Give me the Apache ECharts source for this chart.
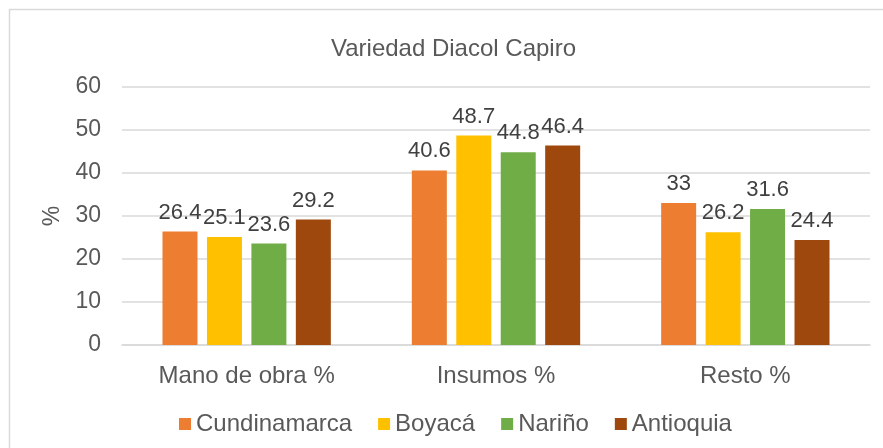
<!DOCTYPE html>
<html>
<head>
<meta charset="utf-8">
<script src="https://cdn.jsdelivr.net/npm/echarts@6/dist/echarts.min.js"></script>
<style>
  html, body { margin: 0; padding: 0; background: #fff; }
  #chart { width: 883px; height: 448px; }
</style>
</head>
<body>
<div id="chart"></div>
<script>
// Cost categories and values per region
const categories = ['Mano de obra %', 'Insumos %', 'Resto %'];
const cundinamarca = [26.4, 40.6, 33];
const boyaca = [25.1, 48.7, 26.2];
const narino = [23.6, 44.8, 31.6];
const antioquia = [29.2, 46.4, 24.4];
const yTicks = [0, 10, 20, 30, 40, 50, 60];

const fontFamily = '"Liberation Sans", Arial, sans-serif';
const chart = echarts.init(document.getElementById('chart'));

function makeSeries(name, data, color) {
    return {
        name: name,
        type: 'bar',
        data: data,
        barWidth: 35,
        barGap: '27%',
        itemStyle: { color: color },
        label: {
            show: true,
            position: 'top',
            distance: 8,
            color: '#404040',
            fontSize: 22,
            fontFamily: fontFamily
        }
    };
}

const option = {
    animation: false,
    backgroundColor: '#fff',
    title: {
        text: 'Variedad Diacol Capiro',
        left: 326,
        top: 32,
        textStyle: { color: '#595959', fontSize: 24, fontWeight: 'normal', fontFamily: fontFamily }
    },
    graphic: [{
        type: 'rect',
        shape: { x: 9.5, y: 9.5, width: 900, height: 500 },
        style: { fill: 'none', stroke: '#d9d9d9', lineWidth: 1.5 },
        silent: true
    }],
    legend: {
        top: 407,
        left: 174,
        itemWidth: 12,
        itemHeight: 12,
        itemGap: 26,
        icon: 'rect',
        textStyle: { color: '#595959', fontSize: 24, fontFamily: fontFamily }
    },
    grid: { left: 122, right: 13, top: 87, bottom: 103 },
    xAxis: {
        type: 'category',
        data: categories,
        axisTick: { show: false },
        axisLine: { lineStyle: { color: '#d9d9d9', width: 1.5 } },
        axisLabel: { color: '#595959', fontSize: 24, margin: 19, fontFamily: fontFamily }
    },
    yAxis: {
        type: 'value',
        min: yTicks[0],
        max: yTicks[yTicks.length - 1],
        interval: 10,
        name: '%',
        nameLocation: 'middle',
        nameGap: 56,
        nameRotate: 90,
        nameTextStyle: { color: '#595959', fontSize: 23, fontFamily: fontFamily },
        axisLabel: { color: '#595959', fontSize: 23, margin: 21, fontFamily: fontFamily },
        splitLine: { lineStyle: { color: '#d9d9d9', width: 1.5 } }
    },
    series: [
        makeSeries('Cundinamarca', cundinamarca, '#ED7D31'),
        makeSeries('Boyacá', boyaca, '#FFC000'),
        makeSeries('Nariño', narino, '#70AD47'),
        makeSeries('Antioquia', antioquia, '#9E480E')
    ]
};

chart.setOption(option);
</script>
</body>
</html>
